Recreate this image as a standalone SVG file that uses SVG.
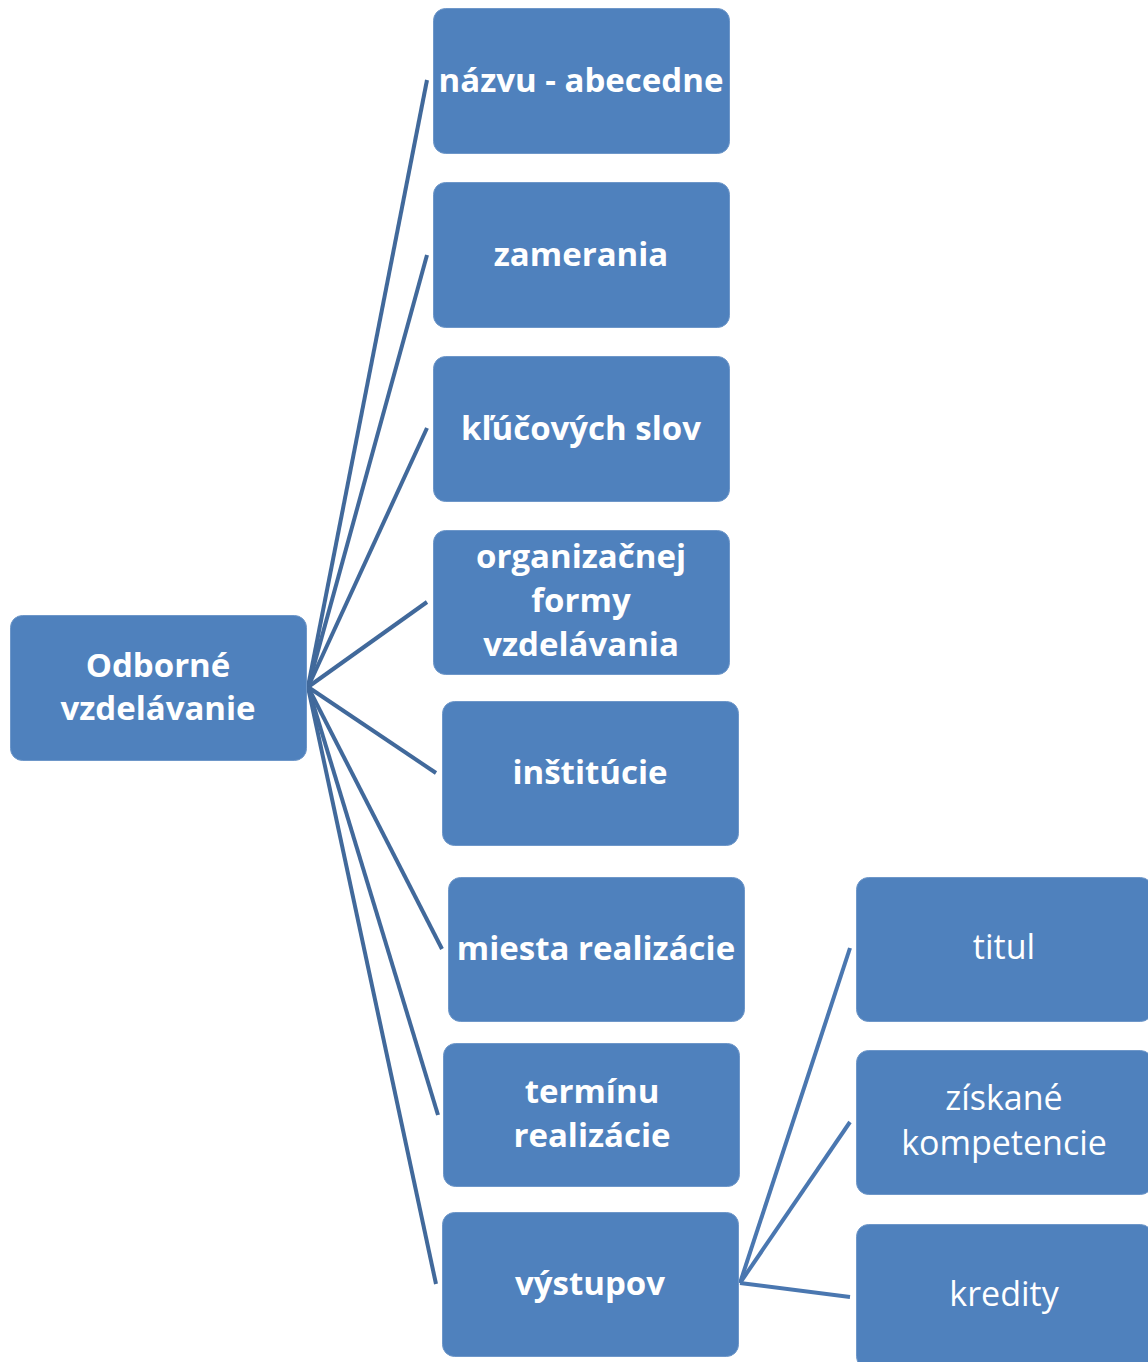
<svg xmlns="http://www.w3.org/2000/svg" width="1148" height="1362" viewBox="0 0 1148 1362">
<style>
.box{fill:#4F81BD;stroke:#6E97C9;stroke-width:1}
.t{fill:#fff;font-family:"Open Sans","Noto Sans","Liberation Sans",sans-serif;font-size:33px;font-weight:bold;text-anchor:middle}
.r{font-weight:normal;font-size:34px}
.c{stroke:#41699B;stroke-width:4;fill:none;stroke-linecap:butt}
.s{stroke:#4A77B0}
</style>
<rect width="1148" height="1362" fill="#fff"/>
<g id="connectors">
<line class="c" x1="308" y1="687" x2="427" y2="80"/>
<line class="c" x1="308" y1="687" x2="427" y2="255"/>
<line class="c" x1="308" y1="687" x2="427" y2="428"/>
<line class="c" x1="308" y1="687" x2="427" y2="602"/>
<line class="c" x1="308" y1="687" x2="436" y2="773"/>
<line class="c" x1="308" y1="687" x2="442" y2="949"/>
<line class="c" x1="308" y1="687" x2="438" y2="1115"/>
<line class="c" x1="308" y1="687" x2="436" y2="1284"/>
<line class="c s" x1="740" y1="1283" x2="850" y2="948"/>
<line class="c s" x1="740" y1="1283" x2="850" y2="1122"/>
<line class="c s" x1="740" y1="1283" x2="850" y2="1297"/>
</g>
<g id="root">
<rect class="box" x="10.5" y="615.5" width="296" height="145" rx="12"/>
<text class="t" x="158" y="677">Odborné</text>
<text class="t" x="158" y="720">vzdelávanie</text>
</g>
<g id="n1">
<rect class="box" x="433.5" y="8.5" width="296" height="145" rx="12"/>
<text class="t" x="581" y="92">názvu - abecedne</text>
</g>
<g id="n2">
<rect class="box" x="433.5" y="182.5" width="296" height="145" rx="12"/>
<text class="t" x="581" y="266">zamerania</text>
</g>
<g id="n3">
<rect class="box" x="433.5" y="356.5" width="296" height="145" rx="12"/>
<text class="t" x="581" y="440">kľúčových slov</text>
</g>
<g id="n4">
<rect class="box" x="433.5" y="530.5" width="296" height="144" rx="12"/>
<text class="t" x="581" y="568">organizačnej</text>
<text class="t" x="581" y="612">formy</text>
<text class="t" x="581" y="656">vzdelávania</text>
</g>
<g id="n5">
<rect class="box" x="442.5" y="701.5" width="296" height="144" rx="12"/>
<text class="t" x="590" y="784">inštitúcie</text>
</g>
<g id="n6">
<rect class="box" x="448.5" y="877.5" width="296" height="144" rx="12"/>
<text class="t" x="596" y="960">miesta realizácie</text>
</g>
<g id="n7">
<rect class="box" x="443.5" y="1043.5" width="296" height="143" rx="12"/>
<text class="t" x="592" y="1103">termínu</text>
<text class="t" x="592" y="1147">realizácie</text>
</g>
<g id="n8">
<rect class="box" x="442.5" y="1212.5" width="296" height="144" rx="12"/>
<text class="t" x="590" y="1295">výstupov</text>
</g>
<g id="c1">
<rect class="box" x="856.5" y="877.5" width="296" height="144" rx="12"/>
<text class="t r" x="1004" y="959">titul</text>
</g>
<g id="c2">
<rect class="box" x="856.5" y="1050.5" width="296" height="144" rx="12"/>
<text class="t r" x="1004" y="1110">získané</text>
<text class="t r" x="1004" y="1155">kompetencie</text>
</g>
<g id="c3">
<rect class="box" x="856.5" y="1224.5" width="296" height="144" rx="12"/>
<text class="t r" x="1004" y="1306">kredity</text>
</g>
</svg>
